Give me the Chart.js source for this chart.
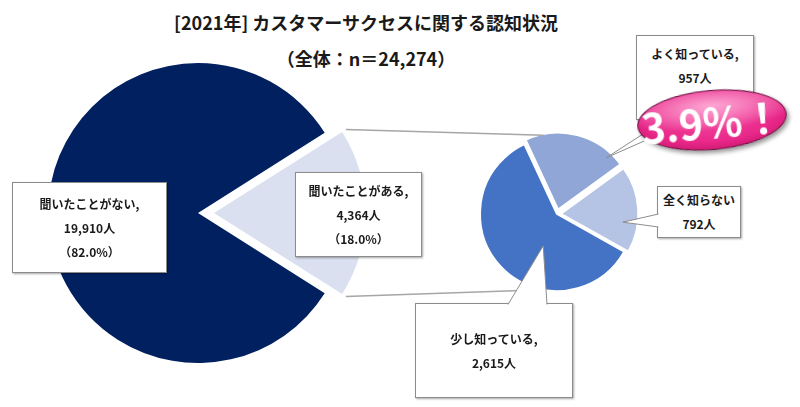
<!DOCTYPE html>
<html lang="ja">
<head>
<meta charset="utf-8">
<script src="https://cdn.jsdelivr.net/npm/chart.js@4.4.1/dist/chart.umd.min.js"></script>
<style>
  html, body { margin: 0; padding: 0; background: #fff; }
  body {
    width: 800px; height: 407px; position: relative; overflow: hidden;
    font-family: "Noto Sans CJK JP", "Noto Sans", sans-serif; color: #1a1a1a;
  }
  canvas { position: absolute; }
  #outerPie { left: 18px; top: 43px; z-index: 1; }
  #innerPie { left: 467px; top: 124px; z-index: 1; }
  #overlay { left: 0; top: 0; z-index: 3; pointer-events: none; }
  .title {
    position: absolute; left: 0; width: 732px; text-align: center;
    font-weight: 700; font-size: 18px; line-height: 24px; color: #1a1a1a;
  }
  .box {
    position: absolute; box-sizing: border-box; z-index: 2;
    background: #fff; border: 1px solid #8c8c8c;
    box-shadow: 1px 1px 2px rgba(0, 0, 0, 0.35);
    display: flex; flex-direction: column; justify-content: center; align-items: center;
    font-weight: 700; font-size: 12px; line-height: 24px; white-space: nowrap;
  }
  #badge {
    position: absolute; left: 637px; top: 90px; width: 150px; height: 60px; z-index: 4;
    box-sizing: border-box; border-radius: 50%;
    border: 1px solid #6a0d3c;
    background:
      radial-gradient(ellipse 62% 42% at 50% 26%, rgba(255, 185, 222, 0.85), rgba(255, 185, 222, 0) 100%),
      radial-gradient(ellipse 75% 75% at 50% 42%, #f34a9f 0%, #e9288a 60%, #cc166f 85%, #8e0e4e 100%);
    box-shadow: 2px 3px 4px rgba(0, 0, 0, 0.4);
    transform: rotate(-5deg);
    color: #fff; font-weight: 700; font-size: 41px; line-height: 58px; text-align: center;
    white-space: nowrap;
  }
</style>
</head>
<body>
<div class="title" id="title" style="top: 10px;"></div>
<div class="title" id="subtitle" style="top: 46px;"></div>
<canvas id="outerPie" width="360" height="340"></canvas>
<canvas id="innerPie" width="180" height="180"></canvas>
<canvas id="overlay" width="800" height="407"></canvas>
<div id="badge"></div>
<script>
// 認知状況（全体）
const outerLabels = ["聞いたことがない", "聞いたことがある"];
const outerCounts = [19910, 4364];
// 「聞いたことがある」の内訳
const innerLabels = ["よく知っている", "全く知らない", "少し知っている"];
const innerCounts = [957, 792, 2615];

const titleText = "[2021年] カスタマーサクセスに関する認知状況";

const total = outerCounts.reduce((a, b) => a + b, 0);
const fmt = (n) => n.toLocaleString("en-US");
const pct = (n) => (n / total * 100).toFixed(1) + "%";

document.getElementById("title").textContent = titleText;
document.getElementById("subtitle").textContent = "（全体：n＝" + fmt(total) + "）";

const baseOptions = {
  responsive: false,
  animation: false,
  events: [],
  layout: { padding: 0 },
  plugins: { legend: { display: false }, tooltip: { enabled: false } },
};

const outerChart = new Chart(document.getElementById("outerPie"), {
  type: "pie",
  data: {
    labels: outerLabels,
    datasets: [{
      data: outerCounts,
      backgroundColor: ["#002060", "#DAE0F0"],
      borderWidth: 0,
      offset: [0, 64],
    }],
  },
  options: {
    ...baseOptions,
    radius: 150,
    rotation: 90 + outerCounts[1] / total * 180,
  },
});

const innerChart = new Chart(document.getElementById("innerPie"), {
  type: "pie",
  data: {
    labels: innerLabels,
    datasets: [{
      data: innerCounts,
      backgroundColor: ["#8FA6D7", "#B5C4E4", "#4472C4"],
      borderColor: "#fff",
      borderWidth: 2,
      offset: [18, 16, 0],
    }],
  },
  options: {
    ...baseOptions,
    radius: 77,
    rotation: -25,
  },
});

// label boxes
const boxes = [
  { chart: "outer", i: 0, sep: ",", showPct: true, left: 12, top: 182, w: 155, h: 91 },
  { chart: "outer", i: 1, sep: ",", showPct: true, left: 295, top: 172, w: 127, h: 85 },
  { chart: "inner", i: 0, sep: ",", showPct: true, left: 636, top: 35, w: 118, h: 85,
    tail: { base: [[667, 118.5], [695, 118.5]], af: 0.86, rf: 0.92 } },
  { chart: "inner", i: 1, sep: "", showPct: false, left: 657, top: 186, w: 84, h: 52,
    tail: { base: [[658.5, 214], [658.5, 227]], af: 0.67, rf: 0.81 } },
  { chart: "inner", i: 2, sep: ",", showPct: false, left: 415, top: 303, w: 158, h: 95,
    tail: { base: [[508, 304.5], [547, 304.5]], af: 0.39, rf: 0.45 } },
];

boxes.forEach((b) => {
  const labels = b.chart === "outer" ? outerLabels : innerLabels;
  const counts = b.chart === "outer" ? outerCounts : innerCounts;
  const el = document.createElement("div");
  el.className = "box";
  el.style.left = b.left + "px";
  el.style.top = b.top + "px";
  el.style.width = b.w + "px";
  el.style.height = b.h + "px";
  const lines = [labels[b.i] + b.sep, fmt(counts[b.i]) + "人"];
  if (b.showPct) lines.push("（" + pct(counts[b.i]) + "）");
  lines.forEach((t) => {
    const d = document.createElement("div");
    d.textContent = t;
    el.appendChild(d);
  });
  document.body.appendChild(el);
});

document.getElementById("badge").textContent = pct(innerCounts[0]) + "！";

// connectors and callout tails, taken from the arc elements
function arcInfo(chart, index) {
  const canvas = chart.canvas;
  const arc = chart.getDatasetMeta(0).data[index];
  const offset = arc.options.offset || 0;
  const mid = (arc.startAngle + arc.endAngle) / 2;
  const fix = 1 - Math.sin(Math.min(Math.PI, arc.circumference));
  return {
    arc,
    cx: canvas.offsetLeft + arc.x + Math.cos(mid) * offset / 4,
    cy: canvas.offsetTop + arc.y + Math.sin(mid) * offset / 4,
    r: arc.outerRadius + offset * fix,
  };
}

const ctx = document.getElementById("overlay").getContext("2d");

const light = arcInfo(outerChart, 1);
const inner = arcInfo(innerChart, 2);
const topA = -100 * Math.PI / 180;
const botA = 100 * Math.PI / 180;
ctx.strokeStyle = "#a6a6a6";
ctx.lineWidth = 1.5;
ctx.beginPath();
ctx.moveTo(light.cx + Math.cos(light.arc.startAngle) * light.r, light.cy + Math.sin(light.arc.startAngle) * light.r);
ctx.lineTo(inner.cx + Math.cos(topA) * inner.r, inner.cy + Math.sin(topA) * inner.r - 3);
ctx.moveTo(light.cx + Math.cos(light.arc.endAngle) * light.r, light.cy + Math.sin(light.arc.endAngle) * light.r);
ctx.lineTo(inner.cx + Math.cos(botA) * inner.r, inner.cy + Math.sin(botA) * inner.r);
ctx.stroke();

boxes.filter((b) => b.tail).forEach((b) => {
  const info = arcInfo(innerChart, b.i);
  const a = info.arc.startAngle + (info.arc.endAngle - info.arc.startAngle) * b.tail.af;
  const r = info.arc.outerRadius * b.tail.rf;
  const tip = [info.cx + Math.cos(a) * r, info.cy + Math.sin(a) * r];
  const [p1, p2] = b.tail.base;
  ctx.beginPath();
  ctx.moveTo(p1[0], p1[1]);
  ctx.lineTo(tip[0], tip[1]);
  ctx.lineTo(p2[0], p2[1]);
  ctx.closePath();
  ctx.fillStyle = "#fff";
  ctx.fill();
  ctx.beginPath();
  ctx.moveTo(p1[0], p1[1]);
  ctx.lineTo(tip[0], tip[1]);
  ctx.lineTo(p2[0], p2[1]);
  ctx.strokeStyle = "#8c8c8c";
  ctx.lineWidth = 1;
  ctx.stroke();
});
</script>
</body>
</html>
